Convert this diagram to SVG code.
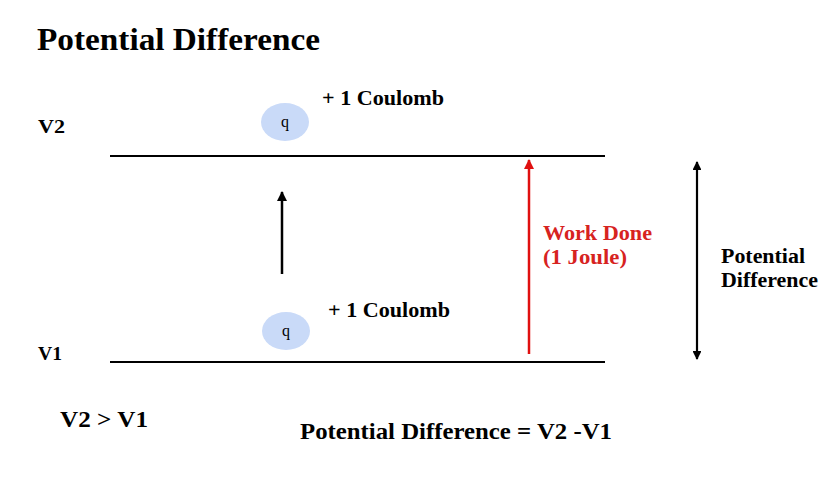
<svg xmlns="http://www.w3.org/2000/svg" width="840" height="480" viewBox="0 0 840 480">
<style>
text{font-family:"Liberation Serif","Times New Roman",serif;font-weight:bold;fill:#000}
.lbl{font-size:20px}
.v{font-size:19px}
.red{fill:#d7231f}
.q{font-weight:normal;font-size:16px}
.plate{stroke:#000;stroke-width:2.2}
.charge{fill:#c9daf8}
</style>
<defs>
<marker id="ah" viewBox="0 0 10 10" refX="9" refY="5" markerWidth="4" markerHeight="4" orient="auto-start-reverse"><path d="M0,0 L10,5 L0,10 z" fill="#000"/></marker>
<marker id="ahr" viewBox="0 0 10 10" refX="9" refY="5" markerWidth="4" markerHeight="4" orient="auto"><path d="M0,0 L10,5 L0,10 z" fill="#e01010"/></marker>
</defs>
<rect width="840" height="480" fill="#fff"/>
<text x="37" y="50" font-size="31" textLength="283" lengthAdjust="spacingAndGlyphs">Potential Difference</text>
<g id="plateV2"><line class="plate" x1="110" y1="156" x2="605" y2="156"/><text class="v" x="38" y="133" textLength="27" lengthAdjust="spacingAndGlyphs">V2</text></g>
<g id="plateV1"><line class="plate" x1="110" y1="362" x2="605" y2="362"/><text class="v" x="38" y="360" textLength="24" lengthAdjust="spacingAndGlyphs">V1</text></g>
<g id="chargeTop"><ellipse class="charge" cx="285" cy="122" rx="24" ry="19"/><text class="q" x="285" y="127" text-anchor="middle">q</text><text class="lbl" x="322" y="105" textLength="122" lengthAdjust="spacingAndGlyphs">+ 1 Coulomb</text></g>
<g id="chargeBottom"><ellipse class="charge" cx="286" cy="331" rx="24" ry="19"/><text class="q" x="286" y="336" text-anchor="middle">q</text><text class="lbl" x="328" y="317" textLength="122" lengthAdjust="spacingAndGlyphs">+ 1 Coulomb</text></g>
<g id="connectors">
<line x1="282" y1="274" x2="282" y2="192" stroke="#000" stroke-width="2.5" marker-end="url(#ah)"/>
<line x1="529" y1="354" x2="529" y2="160" stroke="#e01010" stroke-width="2.5" marker-end="url(#ahr)"/>
<line x1="697" y1="162" x2="697" y2="359" stroke="#000" stroke-width="2.2" marker-start="url(#ah)" marker-end="url(#ah)"/>
</g>
<g id="workDone"><text class="lbl red" x="543" y="240" textLength="109" lengthAdjust="spacingAndGlyphs">Work Done</text><text class="lbl red" x="543" y="264" textLength="84" lengthAdjust="spacingAndGlyphs">(1 Joule)</text></g>
<g id="pdLabel"><text class="lbl" x="721" y="263" textLength="84" lengthAdjust="spacingAndGlyphs">Potential</text><text class="lbl" x="721" y="287" textLength="97" lengthAdjust="spacingAndGlyphs">Difference</text></g>
<text x="60" y="427" font-size="23" textLength="88" lengthAdjust="spacingAndGlyphs">V2 &gt; V1</text>
<text x="300" y="439" font-size="23" textLength="312" lengthAdjust="spacingAndGlyphs">Potential Difference = V2 -V1</text>
</svg>
